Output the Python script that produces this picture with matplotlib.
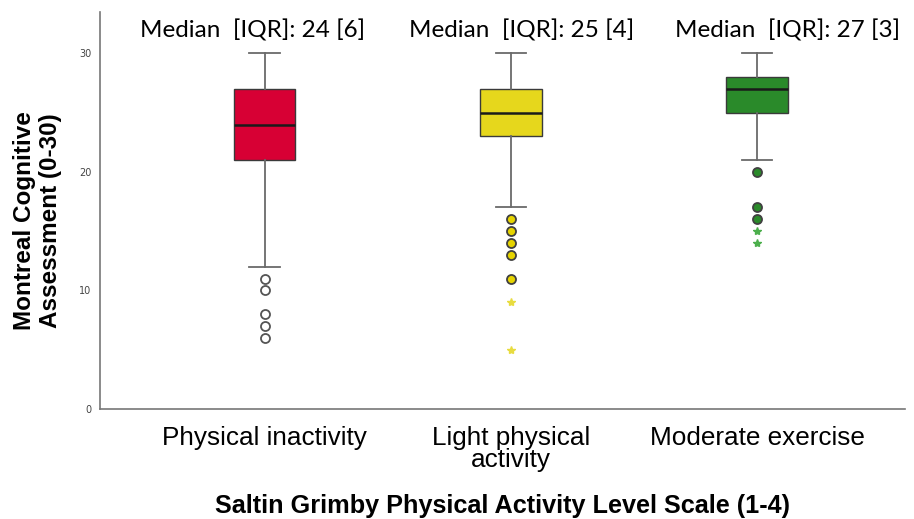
import matplotlib.pyplot as plt

groups = ["Physical inactivity", "Light physical\nactivity", "Moderate exercise"]
medians = [24, 25, 27]
q1 = [21, 23, 25]
q3 = [27, 27, 28]
whislo = [12, 17, 21]
whishi = [30, 30, 30]
iqr_text = ["Median  [IQR]: 24 [6]", "Median  [IQR]: 25 [4]", "Median  [IQR]: 27 [3]"]
out_circles = [[11, 10, 8, 7, 6], [16, 15, 14, 13, 11], [20, 17, 16]]
out_stars = [[], [9, 5], [15, 14]]

box_colors = ["#d70034", "#e6d71c", "#2a8a2a"]
circ_face = ["white", "#e6d400", "#2a8a2a"]
star_colors = ["#999999", "#e8dc40", "#4caf4c"]
text_shift = [-0.05, 0.045, 0.125]

fig = plt.figure(figsize=(9.14, 5.19), dpi=100)
ax = fig.add_axes([0.109, 0.212, 0.881, 0.765])

stats = []
for i in range(3):
    stats.append(dict(med=medians[i], q1=q1[i], q3=q3[i],
                      whislo=whislo[i], whishi=whishi[i], fliers=[]))

pos = [1, 2, 3]
bp = ax.bxp(stats, positions=pos, widths=0.25, patch_artist=True,
            showfliers=False,
            whiskerprops=dict(color="#6a6a6a", lw=1.3),
            capprops=dict(color="#6a6a6a", lw=1.3),
            medianprops=dict(color="#1a1a1a", lw=1.8),
            boxprops=dict(lw=1.0))
for patch, c in zip(bp["boxes"], box_colors):
    patch.set_facecolor(c)
    patch.set_edgecolor("#3a3a3a")
for cap in bp["caps"]:
    x = cap.get_xdata()
    m = (x[0] + x[1]) / 2
    cap.set_xdata([m - 0.062, m + 0.062])

for i in range(3):
    if out_circles[i]:
        ax.plot([pos[i]] * len(out_circles[i]), out_circles[i], "o", ms=6.5,
                mfc=circ_face[i], mec="#404040" if i else "#555555", mew=1.3,
                ls="none", zorder=3)
    if out_stars[i]:
        ax.plot([pos[i]] * len(out_stars[i]), out_stars[i], "*", ms=6,
                color=star_colors[i], ls="none", zorder=3)
    ax.text(pos[i] + text_shift[i], 31.9, iqr_text[i],
            ha="center", va="center", fontsize=17.5, family="Lato")

ax.set_xlim(0.33, 3.6)
ax.set_ylim(0, 33.5)
ax.set_yticks([0, 10, 20, 30])
ax.set_xticks(pos)
ax.set_xticklabels(groups, fontsize=18.8, family="Liberation Sans", linespacing=0.92)
ax.tick_params(axis="y", labelsize=7, colors="#444444", length=0, pad=6)
ax.tick_params(axis="x", length=0, pad=12)
for s in ["top", "right"]:
    ax.spines[s].set_visible(False)
for s in ["left", "bottom"]:
    ax.spines[s].set_color("#777777")
    ax.spines[s].set_linewidth(1.2)

ax.set_ylabel("Montreal Cognitive\nAssessment (0-30)", fontsize=17.5,
              fontweight="bold", family="Liberation Sans", linespacing=1.15)
ax.yaxis.set_label_coords(-0.047, 0.475)
ax.set_xlabel("Saltin Grimby Physical Activity Level Scale (1-4)", fontsize=18.2,
              fontweight="bold", family="Liberation Sans")
ax.xaxis.set_label_coords(0.5, -0.214)

fig.savefig("out.png", dpi=100)
